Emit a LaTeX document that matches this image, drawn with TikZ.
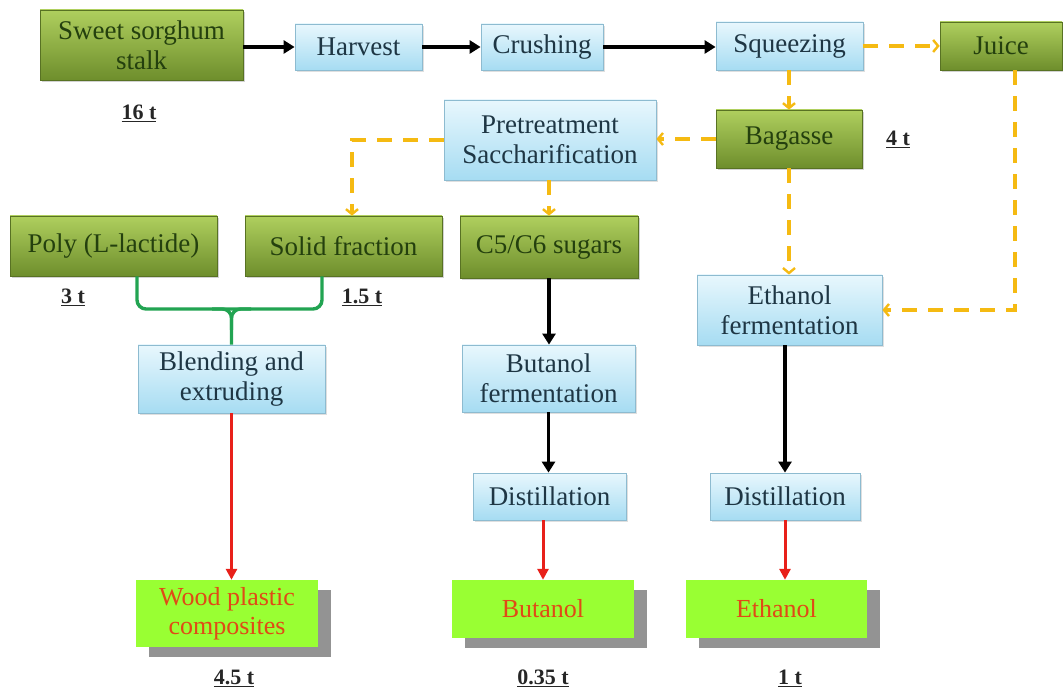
\documentclass[tikz,border=0pt]{standalone}
\usepackage{fontspec}
\setmainfont{Liberation Serif}
\usetikzlibrary{arrows.meta,shadows}
\definecolor{gtop}{HTML}{AFCF5E}
\definecolor{gbot}{HTML}{6E8E2C}
\definecolor{gtxt}{HTML}{24400E}
\definecolor{btop}{HTML}{E8F7FD}
\definecolor{bbot}{HTML}{A6DCF2}
\definecolor{bline}{HTML}{8DBBD0}
\definecolor{btxt}{HTML}{1E3644}
\definecolor{lime}{HTML}{99FF33}
\definecolor{ptxt}{HTML}{E04A16}
\definecolor{gold}{HTML}{F5BA12}
\definecolor{redarr}{HTML}{E8201A}
\definecolor{brk}{HTML}{22A452}
\tikzset{
  gbox/.style={rectangle, top color=gtop, bottom color=gbot, draw=gbot!80!black, line width=0.6pt,
    text=gtxt, font=\fontsize{27}{30}\selectfont, align=center, inner sep=1pt,
    drop shadow={shadow xshift=2pt, shadow yshift=-2pt, opacity=0.35}},
  bbox/.style={rectangle, top color=btop, bottom color=bbot, draw=bline, line width=0.8pt,
    text=btxt, font=\fontsize{27}{30}\selectfont, align=center, inner sep=1pt,
    drop shadow={shadow xshift=2pt, shadow yshift=-2pt, opacity=0.25}},
  pbox/.style={rectangle, fill=lime, text=ptxt, font=\fontsize{26}{29}\selectfont, align=center, inner sep=1pt,
    drop shadow={shadow xshift=13pt, shadow yshift=-10pt, fill=gray!85, opacity=1}},
  qty/.style={font=\bfseries\fontsize{22}{22}\selectfont, text=black!85},
  blk/.style={line width=3.6pt, -{Triangle[length=11pt,width=13pt]}},
  gdash/.style={gold, line width=3.6pt, dash pattern=on 15pt off 11pt, -{Straight Barb[length=5pt,width=12pt,line width=2.4pt]}},
  rarr/.style={redarr, line width=3pt, -{Triangle[length=11pt,width=11pt]}},
}
\newcommand{\uq}[1]{\underline{#1}}
\begin{document}
\begin{tikzpicture}[x=1pt,y=-1pt]
\useasboundingbox (0,0) rectangle (1063,692);
\fill[white] (0,0) rectangle (1063,692);

% green boxes
\node[gbox, minimum width=203pt, minimum height=70pt] (stalk) at (141.5,45) {Sweet sorghum\\stalk};
\node[gbox, minimum width=122pt, minimum height=48pt] (juice) at (1001,46) {Juice};
\node[gbox, minimum width=146pt, minimum height=58pt] (bagasse) at (789,139) {Bagasse};
\node[gbox, minimum width=207pt, minimum height=60pt] (poly) at (113.5,246) {Poly (L-lactide)};
\node[gbox, minimum width=197pt, minimum height=60pt] (solid) at (343.5,246) {Solid fraction};
\node[gbox, minimum width=178pt, minimum height=62pt] (sugars) at (549,247) {C5/C6 sugars};

% blue boxes
\node[bbox, minimum width=127pt, minimum height=46pt] (harvest) at (358.5,47) {Harvest};
\node[bbox, minimum width=122pt, minimum height=46pt] (crushing) at (542,47) {Crushing};
\node[bbox, minimum width=147pt, minimum height=48pt] (squeeze) at (789.5,46) {Squeezing};
\node[bbox, minimum width=212pt, minimum height=80pt] (pretreat) at (550,140) {Pretreatment\\Saccharification};
\node[bbox, minimum width=187pt, minimum height=68pt] (blend) at (231.5,379) {Blending and\\extruding};
\node[bbox, minimum width=185pt, minimum height=70pt] (ethferm) at (789.5,310) {Ethanol\\fermentation};
\node[bbox, minimum width=173pt, minimum height=67pt] (butferm) at (548.5,378.5) {Butanol\\fermentation};
\node[bbox, minimum width=153pt, minimum height=47pt] (dist1) at (549.5,496.5) {Distillation};
\node[bbox, minimum width=150pt, minimum height=47pt] (dist2) at (785,496.5) {Distillation};

% products
\node[pbox, minimum width=182pt, minimum height=67pt] (wood) at (227,613.5) {Wood plastic\\composites};
\node[pbox, minimum width=182pt, minimum height=58pt] (butanol) at (543,609) {Butanol};
\node[pbox, minimum width=181pt, minimum height=58pt] (ethanol) at (776.5,609) {Ethanol};

% quantities
\node[qty] (q16) at (139,113) {\uq{16 t}};
\node[qty] (q4) at (898,139) {\uq{4 t}};
\node[qty] (q3) at (73,297) {\uq{3 t}};
\node[qty] (q15) at (362,297) {\uq{1.5 t}};
\node[qty] (q45) at (234,678) {\uq{4.5 t}};
\node[qty] (q035) at (543,678) {\uq{0.35 t}};
\node[qty] (q1) at (790,678) {\uq{1 t}};

% black arrows
\draw[blk] (stalk.east |- harvest.west) -- (harvest.west);
\draw[blk] (harvest) -- (crushing);
\draw[blk] (crushing.east) -- (squeeze.west |- crushing.east);
\draw[blk] (sugars.south) -- (butferm.north -| sugars.south);
\draw[blk] (butferm.south) -- (dist1.north -| butferm.south);
\draw[blk] (ethferm.south -| dist2.north) -- (dist2.north);

% dashed gold
\draw[gdash] (squeeze.east) -- (juice.west);
\draw[gdash] (squeeze.south -| bagasse.north) -- (bagasse.north);
\draw[gdash] (bagasse.west) -- (pretreat.east |- bagasse.west);
\draw[gdash] (pretreat.west) -| (solid.north -| 352,0);
\draw[gdash] (pretreat.south -| sugars.north) -- (sugars.north);
\draw[gdash] (bagasse.south) -- (ethferm.north -| bagasse.south);
\draw[gdash] (juice.south -| 1015,0) |- (ethferm.east);

% red arrows
\draw[rarr] (blend.south) -- (wood.north -| blend.south);
\draw[rarr] (dist1.south -| butanol.north) -- (butanol.north);
\draw[rarr] (dist2.south) -- (ethanol.north -| dist2.south);

% green bracket
\coordinate (bl) at (poly.south -| 137,0);
\coordinate (br) at (solid.south -| 322,0);
\draw[brk, line width=3.4pt, rounded corners=9pt] (bl) -- (137,309) -- (322,309) -- (br);
\draw[brk, line width=3.4pt, rounded corners=9pt] (blend.north) -- (231.5,309) -- (212,309);
\draw[brk, line width=3.4pt, rounded corners=9pt] (231.5,330) -- (231.5,309) -- (251,309);
\end{tikzpicture}
\end{document}
